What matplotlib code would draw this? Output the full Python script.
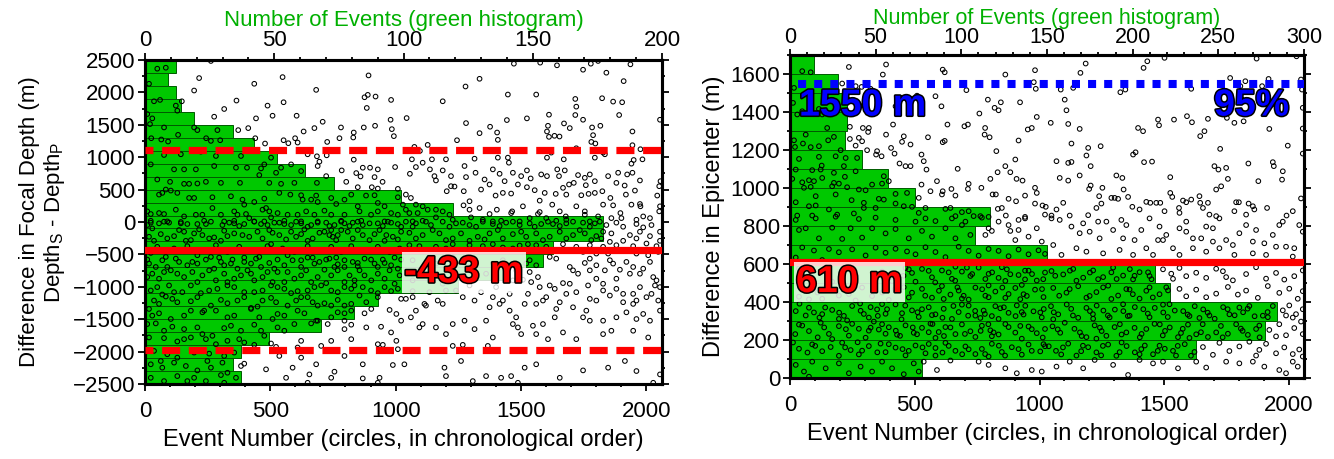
import numpy as np
import matplotlib
matplotlib.use('Agg')
import matplotlib.pyplot as plt
from matplotlib import font_manager as fm
import matplotlib.patheffects as pe
from matplotlib.ticker import MultipleLocator

avail = {f.name for f in fm.fontManager.ttflist}
BASE = 'Liberation Sans' if 'Liberation Sans' in avail else 'DejaVu Sans'
if 'Liberation Sans Narrow' in avail:
    NARROW, ANN_FS = 'Liberation Sans Narrow', 30
else:
    NARROW, ANN_FS = BASE, 27
plt.rcParams['font.family'] = [BASE, 'DejaVu Sans']
plt.rcParams['mathtext.fontset'] = 'custom'
plt.rcParams['mathtext.rm'] = BASE

# ---------------- data: left panel (depth difference) ----------------
depth_bin_centers = [-2400, -2200, -2000, -1800, -1600, -1400, -1200, -1000, -800, -600,
                     -400, -200, 0, 200, 400, 600, 800, 1000, 1200, 1400, 1600, 1800,
                     2000, 2200, 2400]
depth_counts = [37, 34, 37, 48, 68, 81, 90, 121, 140, 154, 158, 177, 177, 119, 99, 73,
                62, 51, 42, 34, 19, 14, 12, 9, 12]
depth_mean = -433
depth_lower = -1973
depth_upper = 1107

depth_points = [
(263,2485),(216,2221),(436,2133),(549,2236),(892,2262),(196,2029),(683,2039),(147,1863),(365,1874),(489,1796),
(553,1848),(876,1925),(889,1962),(920,1936),(982,1884),(316,1744),(885,1760),(276,1625),(443,1599),(509,1640),
(605,1640),(980,1578),(372,1418),(412,1449),(633,1397),(676,1449),(709,1547),(782,1459),(833,1381),(873,1459),
(918,1485),(985,1433),(993,1325),(440,1293),(553,1262),(599,1293),(609,1226),(727,1236),(776,1293),(831,1304),
(479,1211),(572,1216),(649,1045),(686,1014),(696,931),(689,864),(725,1029),(785,796),(833,962),(869,838),
(898,838),(929,812),(998,848),(843,755),(860,703),(916,693),(948,620),(803,620),(849,537),(905,537),
(723,708),(686,604),(929,516),(1009,511),
(49,2366),(83,2381),(16,2133),(60,1884),(36,1863),(123,1796),(129,1718),(9,1666),(29,1599),(20,1511),
(76,1459),(196,1459),(209,1418),(289,1418),(132,1345),(25,1293),(65,1273),(92,1242),(244,1293),(263,1252),
(300,1262),(76,1034),(143,1045),(223,1086),(283,1019),(383,1019),(503,993),(476,889),(543,838),(583,889),
(23,889),(116,812),(156,812),(203,812),(276,864),(363,838),(407,838),(463,827),(523,760),(49,656),
(100,620),(156,589),(176,589),(209,594),(243,620),(303,604),(379,604),(456,724),(496,604),(543,589),
(596,604),(623,786),(83,501),(103,485),(129,449),(56,423),(69,449),(176,371),(196,371),(269,382),
(343,397),(389,345),(396,268),(436,309),(476,361),(483,216),(496,164),(536,449),(580,423),(623,413),
(629,345),(663,345),(683,408),(689,309),(743,371),(763,278),(796,345),(823,423),(849,242),(882,408),
(916,413),(929,294),(956,242),(1009,382),(1029,268),(9,164),(23,123),(56,138),(76,123),(123,190),
(156,86),(203,112),(229,112),(269,216),(303,112),(356,164),(369,112),(403,123),(416,60),(469,190),
(503,71),(529,138),(569,112),(609,112),(643,164),(676,112),(716,175),(743,112),(796,112),(856,164),
(902,112),(929,164),(982,138),(1009,112),(23,19),(89,9),(143,0),(236,19),(316,9),(356,19),
(436,9),(476,9),(556,19),(623,9),(689,9),(783,19),(863,19),(956,9),
(1472,2443),(1577,2459),(1644,2418),(1748,2350),(1779,2443),(1808,2485),(1841,2304),(1937,2433),(1910,2174),(1335,2210),
(1279,2091),(1448,1967),(1561,1967),(1188,1863),(1717,1899),(1721,1780),(1824,1910),(1868,1858),(1904,1848),(1044,1604),
(1281,1526),(1444,1573),(1524,1599),(1612,1656),(1717,1651),(1748,1578),(1892,1651),(2055,1578),(1377,1470),(1335,1371),
(1405,1381),(1408,1268),(1608,1485),(1672,1521),(1695,1449),(1604,1397),(1612,1314),(1634,1330),(1654,1319),(1784,1459),
(1817,1485),(1788,1340),(1945,1397),(1245,1262),(1781,1236),(1945,1185),(1075,1159),(1128,1190),(1097,1097),(1721,1138),
(1797,1211),(1828,1071),(1977,1123),(1065,967),(1145,967),(1201,967),(1315,977),(1408,993),(1448,993),(1452,915),
(1621,1071),(1604,993),(1671,967),(1795,993),(1835,1045),(1950,957),(1985,967),(1941,900),(1081,848),(1108,915),
(1057,744),(1137,812),(1155,708),(1188,796),(1221,708),(1275,864),(1281,693),(1319,760),(1355,656),(1388,812),
(1415,744),(1435,630),(1468,760),(1501,708),(1524,796),(1539,672),(1581,734),(1604,708),(1645,812),(1675,796),
(1652,708),(1692,579),(1728,724),(1755,682),(1775,734),(1759,568),(1795,630),(1848,708),(1881,604),(1888,760),
(1924,734),(1945,760),(1975,641),(1914,563),(2057,630),(2052,552),(1161,641),(1204,475),(1221,553),(1235,547),
(1272,475),(1295,320),(1341,501),(1375,579),(1399,408),(1428,449),(1461,439),(1488,579),(1524,537),(1555,491),
(1595,449),(1639,434),(1668,527),(1681,423),(1711,604),(1741,413),(1770,434),(1795,449),(1825,475),(1857,371),
(1919,423),(1955,485),(1975,278),(2044,408),(2055,242),(1271,257),(1335,216),(1404,190),(1465,164),(1508,242),
(1575,330),(1625,268),(1655,164),(1679,86),(1721,242),(1755,164),(1828,268),(1868,257),(1901,60),(1941,268),
(1977,242),(2015,60),(2052,164),(1861,60),(1897,138),(1961,35),(1988,86),(1041,423),(1061,371),(1081,268),
(1108,242),(1161,190),(1188,164),(1128,190),(1055,138),(1088,138),(1041,190),(1215,112),(1161,71),(1228,35),
(1301,71),(1348,35),(1388,9),(1461,138),(1535,60),(1568,123),(1601,60),(1641,19),(1681,35),(1755,112),
(1775,9),(1808,86),(1068,9),(1108,19),(1295,190),(1375,123),(1421,19),(1495,9),(1575,154),
(23,-10),(56,-21),(96,-10),(143,-21),(209,-31),(243,-31),(309,-47),(356,-21),(396,-31),(463,-31),
(516,-10),(556,-31),(623,-21),(663,-47),(723,-10),(756,-47),(796,-21),(829,-10),(869,-47),(929,-21),
(982,-10),(1009,-31),(63,-187),(116,-218),(156,-150),(196,-176),(229,-202),(276,-238),(329,-218),(356,-176),
(416,-228),(449,-150),(509,-166),(536,-202),(583,-150),(623,-187),(669,-254),(716,-150),(743,-124),(749,-228),
(769,-202),(809,-150),(869,-202),(916,-187),(989,-228),(1022,-150),(36,-290),(163,-290),(303,-290),(503,-342),
(649,-290),(956,-290),(29,-99),(23,-477),(83,-539),(136,-616),(209,-513),(263,-539),(303,-616),(349,-580),
(396,-549),(456,-539),(529,-580),(569,-513),(623,-590),(669,-549),(723,-580),(763,-549),(796,-590),(849,-632),
(902,-580),(949,-580),(996,-549),(43,-694),(89,-694),(169,-668),(209,-642),(276,-720),(316,-668),(369,-720),
(423,-642),(463,-694),(516,-720),(556,-668),(623,-694),(676,-642),(716,-736),(756,-694),(769,-653),(849,-684),
(916,-642),(956,-632),(1009,-720),(9,-580),(29,-798),(76,-772),(129,-798),(189,-772),(209,-927),(283,-901),
(329,-927),(383,-824),(423,-798),(436,-901),(509,-927),(556,-927),(569,-772),(623,-824),(663,-927),(723,-943),
(769,-746),(796,-927),(836,-901),(876,-824),(929,-798),(956,-875),(996,-953),(529,-772),(23,-1057),(69,-1119),
(149,-1083),(223,-1098),(289,-1031),(329,-979),(396,-1083),(469,-1057),(503,-979),(556,-1031),(609,-1067),(649,-1057),
(703,-979),(743,-1057),(796,-1005),(836,-979),(902,-1057),(956,-1005),(1009,-1031),(96,-979),(83,-1150),(129,-1238),
(183,-1223),(236,-1368),(303,-1202),(329,-1254),(423,-1326),(469,-1212),(523,-1238),(603,-1212),(623,-1160),(669,-1238),
(716,-1254),(743,-1290),(796,-1290),(856,-1135),(883,-1238),(36,-1212),(16,-1342),(56,-1409),(103,-1497),(156,-1445),
(229,-1394),(283,-1368),(356,-1445),(423,-1342),(456,-1471),(509,-1497),(556,-1445),(609,-1368),(636,-1409),(689,-1523),
(743,-1471),(796,-1409),(823,-1368),(9,-1575),(43,-1565),(109,-1616),(156,-1653),(209,-1627),(229,-1730),(269,-1756),
(316,-1637),(383,-1678),(436,-1585),(463,-1678),(529,-1627),(596,-1575),(663,-1565),(683,-1523),(16,-1782),(76,-1792),
(129,-1844),(183,-1782),(243,-1808),(283,-1886),(329,-1834),(376,-1808),(436,-1896),(476,-1756),(36,-1989),(89,-2041),
(129,-2093),(196,-2015),(256,-2031),(316,-2067),(356,-2015),(23,-2196),(69,-2248),(116,-2170),(163,-2222),(209,-2290),
(263,-2248),(309,-2170),(329,-2326),(23,-2404),(76,-2455),(129,-2378),(196,-2404),(243,-2455),(303,-2362),(363,-2404),
(316,-2481),(929,-1160),(1022,-1186),(876,-1409),(903,-1342),(976,-1357),(1003,-1419),(1022,-1523),(796,-1523),(823,-1585),
(883,-1627),(942,-1616),(982,-1704),(796,-1653),(729,-1575),(623,-1834),(503,-1875),(523,-1927),(609,-1937),(703,-1912),
(743,-1834),(823,-1808),(929,-1886),(949,-1896),(1003,-1834),(1009,-1963),(383,-2222),(396,-2186),(483,-2274),(536,-2067),
(589,-2248),(623,-2093),(683,-2196),(756,-2310),(796,-2067),(869,-2196),(989,-2207),(563,-2404),(656,-2352),(743,-2404),
(869,-2414),(936,-2404),(649,-2481),(929,-2481),
(1041,5),(1081,-21),(1141,-47),(1188,5),(1241,-21),(1295,-47),(1348,5),(1388,-31),(1441,-10),(1495,-47),
(1535,-21),(1581,-31),(1628,-31),(1681,-21),(1748,-10),(1795,-21),(1055,-166),(1108,-202),(1175,-176),(1228,-254),
(1261,-176),(1295,-290),(1328,-228),(1375,-176),(1428,-254),(1468,-187),(1521,-228),(1561,-176),(1615,-228),(1655,-150),
(1708,-202),(1755,-176),(1801,-218),(1828,-150),(1055,-358),(1161,-383),(1228,-342),(1295,-358),(1348,-373),(1428,-394),
(1495,-363),(1561,-358),(1601,-383),(1841,-47),(1881,-10),(1908,-73),(1961,-31),(1988,-83),(2021,-47),(2055,-150),
(1861,-176),(1935,-202),(1975,-150),(2015,-218),(2055,-290),(1855,-306),(1908,-290),(1961,-254),(2001,-332),(1721,-383),
(1668,-342),(1775,-358),(1828,-383),(1881,-358),(1948,-373),(2041,-373),(1521,-642),(1535,-772),(1568,-850),(1615,-539),
(1641,-565),(1695,-694),(1708,-746),(1728,-798),(1755,-632),(1775,-565),(1801,-668),(1835,-746),(1855,-590),(1895,-736),
(1921,-616),(1948,-694),(1975,-798),(2015,-616),(2028,-850),(2041,-901),(2035,-979),(2048,-1212),(2001,-1160),(1948,-1109),
(1881,-1031),(1855,-1135),(1828,-953),(1801,-875),(1768,-979),(1721,-1083),(1695,-953),(1668,-943),(1635,-1031),(1601,-1160),
(1588,-1212),(1615,-979),(1575,-1005),(1528,-1109),(1508,-891),(1541,-927),(1561,-1264),(1515,-1264),(1481,-1471),(1468,-1575),
(1501,-1730),(1455,-1368),(1428,-1212),(1375,-1316),(1341,-1083),(1268,-1160),(1241,-1057),(1168,-1212),(1121,-1290),(1081,-1368),
(1061,-1471),(1095,-1627),(1201,-1730),(1228,-1575),(1275,-1523),(1315,-1653),(1361,-1523),(1388,-1782),(1455,-1109),(1641,-1342),
(1708,-1316),(1748,-1471),(1775,-1523),(1828,-1523),(1861,-1678),(1881,-1471),(1921,-1394),(1961,-1497),(1988,-1419),(2015,-1523),
(2055,-1368),(2008,-1782),(1948,-1678),(1828,-1730),(1721,-1808),(1668,-1704),(1608,-1808),(1561,-1730),(1588,-1575),(1548,-1601),
(1635,-1471),(1761,-1368),(1801,-1212),(1908,-1238),(1961,-1212),(1228,-1912),(1268,-1896),(1368,-1912),(1035,-2196),(1195,-2248),
(1201,-2378),(1261,-2145),(1361,-2378),(1421,-2404),(1461,-2378),(1515,-2248),(1561,-2196),(1655,-2404),(1748,-2290),(1848,-2248),
(1915,-2145),(1961,-2300),(2055,-2352),(1308,-2455),(1488,-2481),(2028,-2481),(1041,-1186),(1068,-1160),(1115,-1264),(1188,-1264),
(1315,-1212),(1388,-1160),(1415,-1264),(1488,-1627),(1108,-1575),(1161,-1627),(1068,-1067),(1135,-1083),(1201,-1057),(1068,-590),
(1108,-746),(1161,-642),(1228,-539),(1295,-694),(1361,-798),(1428,-590),(1468,-901),(1068,-901),(1188,-953),(1295,-979),
(1401,-1005),(1481,-746),(1535,-590),(1561,-668),
]
depth_points_dense = [
(9,-47),(76,5),(169,-31),(263,5),(336,-10),(376,-62),(436,5),(489,-47),(536,-10),(583,-47),
(603,5),(649,-73),(689,-10),(736,-62),(783,5),(816,-62),(849,5),(896,-21),(949,-62),(969,5),
(1022,-73),(16,-228),(89,-254),(136,-124),(183,-280),(216,-114),(256,-254),(316,-135),(389,-202),(469,-254),
(496,-124),(563,-269),(603,-228),(636,-114),(696,-166),(736,-202),(763,-280),(783,-124),(829,-254),(849,-124),
(896,-280),(936,-124),(963,-202),(1009,-269),(49,-383),(116,-409),(169,-373),(236,-435),(283,-358),(329,-461),
(376,-383),(429,-446),(489,-373),(549,-409),(596,-461),(649,-373),(696,-435),(743,-383),(783,-461),(823,-373),
(876,-446),(929,-383),(976,-461),(1016,-409),(16,-642),(69,-590),(123,-565),(189,-616),(243,-580),(296,-549),
(343,-642),(396,-616),(443,-565),(496,-632),(589,-590),(649,-549),(696,-616),(736,-565),(796,-694),(829,-616),
(876,-565),(929,-694),(982,-668),(1022,-580),(9,-850),(56,-875),(103,-746),(156,-850),(229,-824),(256,-746),
(316,-798),(356,-875),(409,-746),(469,-850),(489,-772),(596,-875),(643,-746),(689,-850),(743,-824),(816,-824),
(856,-746),(903,-901),(976,-746),(1016,-824),(49,-1005),(116,-1083),(183,-979),(256,-1057),(356,-1005),(436,-1083),
(529,-1005),(583,-1098),(676,-1005),(769,-1083),(823,-1031),(869,-1005),(929,-1098),(982,-1067),(56,-1264),(109,-1186),
(209,-1160),(263,-1290),(369,-1212),(396,-1160),(449,-1305),(503,-1171),(569,-1290),(649,-1160),(689,-1290),(769,-1202),
(823,-1264),(29,-1445),(183,-1368),(329,-1471),(529,-1419),(769,-1394),(76,-1678),(343,-1601),(556,-1678),(156,-1808),
(396,-1860),(63,-2145),(249,-2145),(169,-2455),
(1068,-73),(1121,5),(1215,-73),(1268,-10),(1321,-73),(1415,-62),(1468,5),(1555,-73),(1608,5),(1655,-62),
(1708,5),(1775,-73),(1815,5),(1081,-254),(1148,-124),(1201,-280),(1355,-269),(1408,-124),(1501,-150),(1588,-280),
(1681,-254),(1735,-124),(1781,-280),(1821,-254),(1095,-373),(1201,-409),(1388,-342),(1468,-409),(1528,-342),(1848,-487),
(1895,-435),(1961,-487),(2008,-513),(2048,-461),(1801,-487),(1748,-461),(1868,-642),(1988,-720),(1935,-798),(1881,-875),
(1775,-746),(1828,-1057),(1908,-1109),(1975,-1005),(2021,-1109),(2055,-1005),(1948,-1264),(1775,-1186),(1681,-1109),(1655,-1238),
]

# ---------------- data: right panel (epicenter difference) ----------------
epi_bin_centers = [50, 150, 250, 350, 450, 550, 650, 750, 850, 950, 1050, 1150, 1250,
                   1350, 1450, 1550, 1650]
epi_counts = [77, 237, 277, 284, 222, 213, 150, 108, 117, 73, 57, 42, 32, 33, 33, 28, 14]
epi_median = 610
epi_95 = 1550

epi_points = [
(236,1637),(385,1650),(372,1597),(612,1623),(620,1609),(863,1597),(982,1620),(977,1557),(985,1522),(209,1550),
(263,1536),(287,1532),(323,1522),(509,1486),(583,1483),(607,1430),(707,1515),(793,1465),(820,1422),(836,1409),
(845,1451),(922,1451),(759,1392),(989,1374),(423,1430),(240,1322),(292,1316),(316,1316),(313,1295),(413,1334),
(631,1334),(699,1325),(713,1334),(782,1316),(953,1308),(969,1316),(385,1281),(456,1272),(449,1243),(483,1229),
(240,1258),(276,1264),(263,1223),(289,1246),(309,1199),(349,1194),(345,1176),(367,1167),(405,1211),(419,1181),
(553,1267),(612,1241),(620,1248),(780,1281),(800,1267),(916,1250),(827,1194),(903,1150),(527,1176),(536,1141),
(439,1129),(463,1115),(483,1115),(547,1097),(672,1101),(863,1115),(832,1083),(883,1083),(803,1048),(908,1048),
(932,1039),(589,1036),(716,1022),(527,1018),(563,983),(612,983),(609,966),(647,995),(663,960),(713,995),
(767,1001),(812,966),(825,966),(876,943),(906,930),(942,960),(982,1001),(989,974),(982,918),(1012,908),
(1025,901),(516,948),(833,890),(849,895),(865,855),(942,848),(1022,860),(716,878),(763,852),
(49,1615),(83,1609),(16,1527),(12,1448),(29,1387),(49,1404),(116,1416),(129,1387),(149,1316),(16,1251),
(52,1234),(83,1215),(116,1220),(153,1251),(176,1269),(63,1281),(20,1216),(203,1199),(36,1153),(116,1164),
(183,1167),(223,1158),(269,1158),(89,1094),(127,1118),(123,1097),(176,1080),(216,1115),(263,1088),(9,1048),
(49,1030),(76,1041),(96,1036),(129,1053),(220,1059),(23,1097),(176,1027),(56,1001),(83,1006),(169,1009),
(196,1023),(229,1004),(276,992),(303,988),(329,1018),(369,1023),(396,1036),(376,1062),(103,957),(183,966),
(247,936),(296,922),(356,943),(376,939),(423,969),(469,974),(23,925),(76,904),(103,908),(156,887),
(189,860),(256,866),(296,895),(343,895),(423,918),(456,904),(489,901),(516,869),(543,895),(623,890),
(643,895),(689,873),(663,852),(736,852),(796,848),(29,855),(89,855),
(1185,1655),(1164,1606),(1417,1632),(1432,1667),(1501,1685),(1870,1681),(2030,1693),(1085,1518),(1135,1527),(1324,1504),
(1344,1518),(1608,1522),(1764,1579),(1805,1536),(1825,1562),(1892,1536),(1918,1574),(2052,1518),(2048,1571),(1101,1465),
(1108,1409),(1045,1343),(1115,1337),(1161,1311),(1395,1316),(1415,1299),(1475,1360),(1479,1330),(1539,1360),(1591,1378),
(1611,1346),(1644,1273),(1661,1299),(1675,1364),(1751,1369),(1781,1343),(1818,1351),(1921,1311),(2055,1313),(2055,1422),
(1128,1234),(1195,1211),(1245,1220),(1188,1171),(1375,1176),(1385,1188),(1068,1141),(1115,1132),(1128,1137),(1205,1115),
(1419,1136),(1451,1139),(1724,1206),(1701,1115),(1717,1097),(1748,1106),(1755,1048),(1837,1129),(1935,1136),(1939,1115),
(1975,1088),(1995,1223),(2055,1181),(1972,1044),(1877,1036),(1081,1053),(1115,1039),(1161,1066),(1199,995),(1205,1013),
(1252,1001),(1308,1066),(1332,1053),(1337,992),(1239,957),(1288,948),(1301,948),(1315,943),(1355,953),(1372,901),
(1401,887),(1428,927),(1444,922),(1468,922),(1484,922),(1501,878),(1524,974),(1532,953),(1524,1057),(1559,895),
(1575,934),(1588,925),(1608,939),(1641,957),(1644,922),(1655,895),(1675,922),(1708,992),(1728,1009),(1788,925),
(1799,925),(1781,878),(1838,918),(1855,904),(1861,887),(1912,895),(1990,855),(2015,878),(2048,945),(1095,922),
(1068,887),(1121,855),(1048,855),(1195,857),(1228,895),(1248,918),(1561,869),(1681,860),(1708,852),(1828,860),
(23,832),(103,840),(183,849),(276,837),(343,844),(423,832),(503,823),(543,840),(583,826),(649,840),
(703,823),(769,844),(36,779),(63,788),(116,735),(169,791),(209,732),(243,788),(289,739),(329,788),
(383,761),(423,784),(476,735),(529,774),(569,744),(623,788),(663,735),(689,805),(723,753),(796,788),
(836,823),(876,805),(916,832),(942,840),(809,774),(883,774),(916,779),(956,744),(989,788),(1009,718),
(903,726),(783,753),(49,687),(96,671),(156,679),(196,662),(249,677),(303,645),(343,686),(383,659),
(423,680),(469,666),(503,651),(543,688),(583,663),(623,636),(676,691),(716,669),(756,644),(796,679),
(836,669),(876,641),(916,676),(956,651),(996,672),(1022,653),(23,634),(129,621),(36,577),(463,579),
(489,553),(529,574),(569,530),(609,566),(649,522),(689,560),(723,537),(756,581),(796,548),(836,527),
(869,572),(916,542),(956,565),(989,513),(1022,555),(503,507),(663,586),(849,583),(942,519),(76,551),
(169,507),(263,542),(369,560),(409,510),(36,428),(76,414),(129,417),(196,434),(263,408),(329,431),
(396,411),(456,478),(489,449),(529,469),(569,423),(609,484),(643,439),(676,460),(716,413),(743,476),
(783,433),(823,455),(863,422),(903,474),(936,441),(982,465),(1016,426),(689,418),(796,487),(929,490),
(23,352),(63,329),(96,345),(129,336),(169,358),(216,327),(249,379),(283,354),(316,318),(349,361),
(383,338),(423,387),(449,341),(489,356),(516,321),(556,372),(583,335),(616,364),(649,311),(676,347),
(716,381),(743,328),(776,355),(809,326),(843,367),(876,343),(909,382),(936,334),(976,351),(1009,319),
(323,373),(369,389),(569,331),(689,386),(763,316),(823,378),(929,347),(76,370),(196,311),(36,281),
(76,247),(123,291),(156,232),(196,273),(236,223),(276,259),(316,249),(336,297),(356,255),(396,267),
(429,228),(463,277),(496,238),(529,264),(563,286),(596,242),(623,268),(663,231),(689,282),(723,246),
(743,216),(769,275),(803,251),(836,229),(863,284),(903,239),(929,207),(956,271),(989,236),(1022,258),
(323,265),(383,233),(583,211),(809,220),(169,205),(36,154),(89,177),(129,141),(163,163),(209,186),
(243,147),(276,124),(316,168),(363,181),(383,136),(423,160),(463,119),(503,171),(543,130),(583,158),
(623,185),(663,143),(703,166),(743,126),(769,153),(809,180),(849,137),(889,162),(929,123),(956,176),
(1003,140),(1022,167),(583,118),(796,113),(23,69),(56,34),(89,86),(143,51),(196,77),(236,25),
(283,60),(329,34),(369,86),(409,51),(456,20),(496,77),(516,34),(76,7),(536,86),(589,42),
(643,92),(756,86),(796,69),(863,51),(909,25),(969,42),(1009,34),
(1048,840),(1081,832),(1128,797),(1161,762),(1201,770),(1235,823),(1241,735),(1295,779),(1328,832),(1348,805),
(1381,726),(1408,779),(1441,840),(1481,797),(1475,726),(1508,753),(1535,683),(1561,788),(1588,823),(1615,735),
(1648,735),(1668,797),(1695,718),(1721,840),(1748,726),(1775,700),(1801,762),(1828,805),(1868,779),(1901,709),
(1935,753),(1961,805),(1988,691),(2021,683),(2055,770),(1055,700),(1088,648),(1148,683),(1188,665),(1255,656),
(1321,674),(1375,648),(1428,683),(1455,648),(1495,726),(1615,683),(1668,665),(1721,683),(1781,648),(1855,656),
(1908,648),(1948,691),(2015,639),(2041,805),(1175,814),(1268,823),(1588,770),(1855,718),(1975,823),(1695,788),
(1561,648),(1335,735),(1048,563),(1095,545),(1135,574),(1175,528),(1215,566),(1255,531),(1295,581),(1335,539),
(1375,519),(1401,557),(1441,537),(1495,572),(1535,522),(1561,579),(1588,536),(1628,554),(1668,527),(1708,575),
(1748,531),(1775,514),(1828,547),(1868,583),(1908,523),(1948,553),(1981,518),(2021,536),(2055,566),(1528,549),
(1735,562),(1055,474),(1108,449),(1155,483),(1188,423),(1228,452),(1275,486),(1315,434),(1361,466),(1401,418),
(1441,477),(1481,441),(1515,461),(1561,469),(1588,430),(1628,465),(1668,425),(1708,444),(1755,479),(1795,439),
(1828,460),(1875,422),(1915,484),(1961,448),(2001,470),(2035,417),(2055,457),(1046,378),(1075,335),(1127,364),
(1155,317),(1202,352),(1229,381),(1274,329),(1302,360),(1354,326),(1382,373),(1434,339),(1462,369),(1514,321),
(1542,355),(1594,334),(1622,378),(1674,344),(1702,312),(1754,362),(1782,330),(1834,365),(1862,325),(1914,347),
(1935,379),(1055,309),(1215,312),(1335,388),(1495,386),(1641,316),(1801,371),(1975,356),(2001,382),(2028,336),
(2048,297),(2015,318),(1988,329),(2055,362),(1052,272),(1083,238),(1140,259),(1169,221),(1221,277),(1249,247),
(1301,268),(1329,229),(1381,264),(1409,232),(1461,285),(1494,224),(1522,266),(1567,237),(1595,281),(1647,241),
(1675,216),(1727,274),(1755,233),(1807,260),(1835,227),(1881,276),(1228,207),(1601,211),(1921,253),(1961,283),
(1988,225),(2021,263),(2055,231),(1948,219),(1037,167),(1087,124),(1115,181),(1167,141),(1195,162),(1247,119),
(1275,176),(1321,136),(1349,168),(1401,125),(1422,171),(1474,143),(1502,154),(1547,118),(1582,178),(1621,137),
(1655,163),(1695,122),(1721,185),(1761,142),(1801,166),(1841,191),(1881,148),(1908,180),(1948,130),(1981,161),
(2015,126),(2041,150),(2055,113),(1868,118),(1068,60),(1121,86),(1175,51),(1221,95),(1295,69),(1355,16),
(1401,95),(1455,77),(1495,86),(1555,51),(1628,86),(1668,55),(1748,86),(1801,77),(1855,86),(1901,60),
(1961,42),(1988,25),(2015,86),(2035,60),
]
epi_points_dense = [
(38,391),(118,318),(141,371),(197,344),(229,303),(281,392),(296,337),(352,327),(389,362),(447,309),
(462,381),(511,346),(529,362),(611,317),(655,379),(714,328),(742,353),(781,337),(836,311),(857,372),
(904,326),(943,380),(1003,345),(1017,363),(21,231),(49,276),(111,214),(137,266),(224,257),(249,285),
(303,212),(369,283),(424,249),(441,222),(492,266),(509,230),(556,241),(571,284),(617,221),(643,266),
(701,232),(764,248),(795,283),(816,240),(876,268),(923,274),(969,257),(1013,213),(12,187),(70,134),
(101,169),(196,117),(221,161),(271,188),(289,144),(350,135),(396,178),(451,152),(476,143),(531,161),
(556,179),(611,134),(636,169),(690,125),(716,151),(782,126),(837,170),(862,118),(916,152),(969,143),
(1016,178),(51,468),(110,450),(142,477),(236,442),(289,476),(370,450),(421,468),(476,424),(542,433),
(597,459),(616,416),(671,477),(696,433),(770,467),(796,425),(851,476),(876,442),(923,415),(949,432),
(1010,468),(455,538),(476,572),(556,564),(582,503),(636,556),(662,512),(709,581),(730,547),(783,521),
(810,556),(863,511),(883,546),(942,565),(970,547),(1015,520),
(1057,346),(1109,387),(1134,329),(1188,369),(1214,336),(1256,355),(1281,319),(1336,352),(1361,328),(1416,362),
(1441,320),(1496,345),(1521,388),(1576,352),(1601,326),(1656,361),(1681,329),(1736,373),(1761,335),(1816,346),
(1841,379),(1895,328),(1915,320),(1073,256),(1101,291),(1162,240),(1188,215),(1242,265),(1268,222),(1322,283),
(1348,240),(1402,214),(1428,258),(1482,282),(1503,248),(1555,215),(1574,259),(1628,230),(1654,283),(1708,240),
(1734,214),(1788,283),(1814,248),(1868,258),(1882,214),(1066,143),(1094,161),(1148,118),(1174,170),(1228,135),
(1254,169),(1308,117),(1329,187),(1382,135),(1408,152),(1455,125),(1481,170),(1535,143),(1554,169),(1607,117),
(1079,433),(1121,468),(1201,432),(1255,477),(1288,416),(1348,468),(1374,441),(1428,459),(1454,424),(1508,477),
(1063,538),(1122,565),(1148,512),(1202,555),(1235,520),(1288,556),(1309,521),(1362,573),(1381,538),(1435,556),
(1449,520),
]

# ---------------- styling ----------------
GREEN = '#00c800'
GREEN_TXT = '#00b000'
EDGE = '#005a00'
LABEL_FS = 17

fig = plt.figure(figsize=(13.34, 4.59), dpi=100)


def setup_panel(rect, ev_max, count_max, ylim, ymaj, ymin_, centers, counts, binw, pts,
                ylabel, ylabelpad, ylabel_fs, tick_fs, top_tick_fs, top_fs, toppad,
                top_ticklen, top_tickpad):
    ax = fig.add_axes(rect)
    tw = ax.twiny()
    tw.barh(centers, counts, height=binw, color=GREEN, edgecolor=EDGE, linewidth=0.7)
    tw.set_xlim(0, count_max)
    ax.set_zorder(tw.get_zorder() + 1)
    ax.patch.set_visible(False)
    ev = np.array([p[0] for p in pts])
    val = np.array([p[1] for p in pts])
    ax.scatter(ev, val, s=11, facecolors='none', edgecolors='black', linewidths=0.75, zorder=3)
    ax.set_xlim(0, ev_max)
    ax.set_ylim(*ylim)
    ax.xaxis.set_major_locator(MultipleLocator(500))
    ax.xaxis.set_minor_locator(MultipleLocator(100))
    ax.yaxis.set_major_locator(MultipleLocator(ymaj))
    ax.yaxis.set_minor_locator(MultipleLocator(ymin_))
    tw.xaxis.set_major_locator(MultipleLocator(50))
    tw.xaxis.set_minor_locator(MultipleLocator(10))
    ax.tick_params(axis='both', which='both', direction='out', labelsize=tick_fs,
                   right=True, top=False, width=1.3)
    ax.tick_params(axis='both', which='major', length=5)
    ax.tick_params(axis='both', which='minor', length=2.5)
    ax.tick_params(axis='x', which='major', pad=7)
    ax.tick_params(axis='y', which='major', pad=2)
    tw.tick_params(axis='x', which='both', direction='out', labelsize=top_tick_fs, width=1.3)
    tw.tick_params(axis='x', which='major', length=top_ticklen, pad=top_tickpad)
    tw.tick_params(axis='x', which='minor', length=top_ticklen / 2)
    for a in (ax, tw):
        for s in a.spines.values():
            s.set_linewidth(2.2)
    ax.set_xlabel('Event Number (circles, in chronological order)', fontsize=LABEL_FS, labelpad=5)
    tw.set_xlabel('Number of Events (green histogram)', fontsize=top_fs, color=GREEN_TXT,
                  labelpad=toppad)
    ax.set_ylabel(ylabel, fontsize=ylabel_fs, labelpad=ylabelpad, linespacing=1.1)
    return ax, tw


stroke = [pe.withStroke(linewidth=2.2, foreground='black')]

# left panel
axL, twL = setup_panel([145/1334, (459-384)/459, (662-145)/1334, (384-60)/459],
                       2063, 200, (-2500, 2500), 500, 250,
                       depth_bin_centers, depth_counts, 200, depth_points + depth_points_dense,
                       'Difference in Focal Depth (m)\nDepth$_\\mathregular{S}$ - Depth$_\\mathregular{P}$',
                       4, 16, 16, 16, 16, 3, 5, 1.5)
axL.axhline(depth_mean, color='red', lw=5.2, zorder=4)
for yv in (depth_upper, depth_lower):
    axL.axhline(yv, color='red', lw=5.2, linestyle=(1.4, (2.5, 1.2)), zorder=4)
axL.text(1035, -776, '-433 m', fontsize=ANN_FS, fontweight='bold', family=NARROW, color='red',
         ha='left', va='center', path_effects=stroke, zorder=6,
         bbox=dict(boxstyle='square,pad=0.06', facecolor='white', alpha=0.82, edgecolor='none'))

# right panel
axR, twR = setup_panel([790/1334, (459-378)/459, (1304-790)/1334, (378-55)/459],
                       2060, 300, (0, 1700), 200, 100,
                       epi_bin_centers, epi_counts, 100, epi_points + epi_points_dense,
                       'Difference in Epicenter (m)', 4, 17, 16, 15.5, 15.5, 2.5, 4, 1)
axR.axhline(epi_median, color='red', lw=5.2, zorder=4)
axR.axhline(epi_95, color='blue', lw=5.8, linestyle=(1, (1, 1)), zorder=4)
axR.text(24, 505, '610 m', fontsize=ANN_FS, fontweight='bold', family=NARROW, color='red',
         ha='left', va='center', path_effects=stroke, zorder=6,
         bbox=dict(boxstyle='square,pad=0.06', facecolor='white', alpha=0.82, edgecolor='none'))
axR.text(36, 1434, '1550 m', fontsize=ANN_FS, fontweight='bold', family=NARROW, color='blue',
         ha='left', va='center', path_effects=stroke, zorder=6)
axR.text(2000, 1434, '95%', fontsize=ANN_FS, fontweight='bold', family=NARROW, color='blue',
         ha='right', va='center', path_effects=stroke, zorder=6)

fig.savefig('out.png', dpi=100)
